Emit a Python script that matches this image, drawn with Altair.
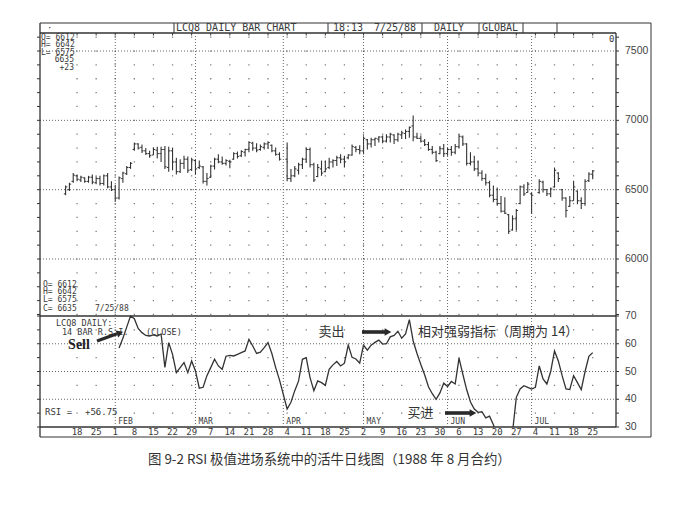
import altair as alt
import numpy as np
import pandas as pd

# ---------------- data ----------------
origin_day = "1988-01-04"          # trading-day index 0 (a Monday)
bar_first, bar_last = "1988-01-13", "1988-07-25"

highs = [6530, 6550, 6620,
         6610, 6600, 6590, 6600, 6610,
         6595, 6600, 6610, 6620, 6560,
         6535, 6595, 6630, 6670, 6700,
         6840, 6835, 6825, 6800, 6780,
         6805, 6810, 6810, 6815, 6810,
         6800, 6730, 6720, 6745, 6740,
         6730, 6720, 6710, 6670, 6620,
         6680, 6730, 6755, 6740, 6720,
         6715, 6770, 6775, 6785, 6795,
         6850, 6845, 6835, 6825, 6840,
         6850, 6825, 6805, 6770, None,
         6840, 6650, 6670, 6695, 6730,
         6805, 6805, 6695, 6685, 6710,
         6710, 6730, 6720, 6745, 6755,
         6745, 6755, 6825, 6815, 6820,
         6885, 6865, 6875, 6875, 6885,
         6890, 6900, 6910, 6900, 6910,
         6925, 6935, 6955, 7035, 6910,
         6890, 6865, 6845, 6815, 6780,
         6815, 6830, 6805, 6815, 6830,
         6900, 6890, 6835, 6770, 6745,
         6710, 6640, 6615, 6565, 6530,
         6515, 6455, 6445, 6325, 6315,
         6360, 6530, 6540, 6555, 6480,
         None, 6575, 6565, 6505, 6515,
         6660, 6625, 6505, 6445, 6455,
         6565, 6495, 6445, 6575, 6625,
         6642]
lows = [6460, 6490, 6550,
        6560, 6555, 6550, 6550, 6540,
        6540, 6530, 6530, 6510, 6490,
        6415, 6430, 6550, 6605, 6650,
        6780, 6790, 6765, 6750, 6730,
        6750, 6725, 6700, 6650, 6630,
        6640, 6610, 6620, 6650, 6620,
        6635, 6610, 6650, 6545, 6530,
        6585, 6645, 6690, 6680, 6675,
        6655, 6715, 6725, 6735, 6740,
        6770, 6780, 6770, 6780, 6790,
        6795, 6770, 6745, 6710, None,
        6560, 6555, 6590, 6610, 6650,
        6695, 6660, 6555, 6590, 6600,
        6625, 6650, 6660, 6670, 6690,
        6660, 6720, 6745, 6770, 6755,
        6755, 6790, 6805, 6815, 6840,
        6835, 6840, 6840, 6830, 6845,
        6865, 6865, 6875, 6850, 6865,
        6840, 6815, 6780, 6755, 6700,
        6755, 6735, 6745, 6745, 6755,
        6800, 6815, 6675, 6675, 6635,
        6600, 6565, 6530, 6445, 6410,
        6385, 6335, 6325, 6180, 6205,
        6205, 6395, 6455, 6480, 6325,
        None, 6470, 6480, 6455, 6445,
        6515, 6555, 6420, 6300, 6375,
        6420, 6395, 6360, 6385, 6555,
        6575]
opens = [6470, 6500, 6560,
         6600, 6570, 6585, 6560, 6590,
         6550, 6580, 6545, 6600, 6520,
         6500, 6440, 6580, 6615, 6660,
         6790, 6830, 6805, 6780, 6760,
         6750, 6785, 6760, 6790, 6660,
         6780, 6700, 6630, 6690, 6720,
         6645, 6710, 6660, 6665, 6560,
         6590, 6670, 6720, 6700, 6690,
         6705, 6720, 6760, 6745, 6770,
         6790, 6835, 6800, 6790, 6805,
         6830, 6820, 6780, 6755, None,
         6720, 6580, 6600, 6640, 6680,
         6720, 6790, 6680, 6595, 6650,
         6630, 6660, 6700, 6710, 6730,
         6720, 6730, 6750, 6805, 6790,
         6780, 6860, 6830, 6860, 6865,
         6880, 6850, 6880, 6895, 6860,
         6895, 6905, 6920, 6960, 6880,
         6870, 6850, 6825, 6790, 6770,
         6760, 6795, 6760, 6790, 6770,
         6810, 6880, 6830, 6690, 6700,
         6650, 6620, 6580, 6550, 6460,
         6430, 6400, 6345, 6320, 6210,
         6290, 6400, 6520, 6480, 6470,
         None, 6480, 6555, 6500, 6470,
         6520, 6620, 6500, 6440, 6380,
         6420, 6490, 6420, 6400, 6565,
         6612]
closes = [6520, 6540, 6605,
          6575, 6590, 6560, 6590, 6555,
          6580, 6545, 6600, 6520, 6500,
          6440, 6585, 6620, 6660, 6690,
          6830, 6800, 6780, 6760, 6745,
          6790, 6760, 6790, 6665, 6780,
          6700, 6630, 6690, 6720, 6640,
          6715, 6650, 6670, 6560, 6580,
          6670, 6720, 6700, 6690, 6710,
          6700, 6760, 6740, 6775, 6790,
          6840, 6800, 6785, 6810, 6830,
          6840, 6780, 6755, 6720, None,
          6580, 6600, 6650, 6680, 6720,
          6790, 6680, 6570, 6660, 6620,
          6650, 6700, 6710, 6730, 6720,
          6700, 6750, 6810, 6790, 6780,
          6870, 6830, 6860, 6870, 6880,
          6850, 6880, 6900, 6860, 6900,
          6910, 6920, 6950, 6880, 6870,
          6850, 6825, 6790, 6770, 6710,
          6795, 6760, 6790, 6770, 6810,
          6885, 6830, 6690, 6700, 6650,
          6620, 6580, 6550, 6460, 6430,
          6400, 6345, 6330, 6200, 6290,
          6350, 6520, 6470, 6540, 6460,
          None, 6560, 6500, 6470, 6505,
          6640, 6580, 6440, 6350, 6420,
          6520, 6420, 6400, 6560, 6612,
          6635]

rsi_first = "1988-02-02"
rsi_values = [58.5, 62, 66, 70,
              69, 65.5, 64, 63, 62.8,
              63.2, 62.8, 63.5, 51.5, 60.4,
              56.2, 49.6, 51.4, 53.2, 49.6,
              53.8, 50.2, 44, 44.3, 48.5,
              51.4, 54.4, 52, 50.8, 55.5,
              55.8, 55.6, 56.2, 56.8, 57.4,
              61.6, 59.2, 56.5, 57, 58.6,
              60.4, 56.5, 51.4, 47, None,
              36.5, 38.9, 43.1, 46.6, 54.4,
              55, 47.8, 43.1, 46.6, 46,
              45, 50.8, 52.4, 53.6, 52,
              53, 59.5, 55.1, 54.5, 53,
              59.5, 57.7, 59.5, 60.5, 61.3,
              59.9, 60, 62.5, 63, 64.5,
              62, 63.5, 68.7, 61, 56.5,
              52.5, 48.8, 44.5, 42, 40,
              42.3, 45.8, 44.6, 46.4, 45.5,
              54.8, 49, 43.5, 39, 36.5,
              35.3, 35.5, 33.3, 33.9, 30.8,
              27, 25, 23, 21, 28,
              40.7, 43.7, 44.9, 44.3, 43.7,
              44.3, 52, 47.3, 45.5, 50,
              57.4, 53.8, 48.5, 43.7, 43.5,
              48.5, 46, 43.5, 50, 55.5,
              56.8]

month_starts = ["1988-02-01", "1988-03-01", "1988-04-01",
                "1988-05-02", "1988-06-01", "1988-07-01"]
month_names = ["FEB", "MAR", "APR", "MAY", "JUN", "JUL"]
week_first, week_last = "1988-01-18", "1988-07-25"

price_labels = [6000, 6500, 7000, 7500]
price_ticks = list(range(5600, 7700, 100))
rsi_labels = [30, 40, 50, 60, 70]
rsi_ticks = list(range(30, 75, 5))
rsi_lines = [40, 50, 60]
rsi_dot_levels = [35, 45, 55, 65]

caption = "图 9-2  RSI 极值进场系统中的活牛日线图（1988 年 8 月合约）"

# ---------------- tables ----------------
def tindex(days):
    return np.busday_count(origin_day, np.array(days, dtype="datetime64[D]"))

bar_days = pd.bdate_range(bar_first, bar_last)
bars = pd.DataFrame({"i": tindex(bar_days.strftime("%Y-%m-%d")),
                     "high": highs, "low": lows, "open": opens, "close": closes}).dropna()

rsi_days = pd.bdate_range(rsi_first, bar_last)
rsi = pd.DataFrame({"i": tindex(rsi_days.strftime("%Y-%m-%d")), "rsi": rsi_values}).dropna()

mondays = pd.date_range(week_first, week_last, freq="W-MON")
weeks = pd.DataFrame({"i": tindex(mondays.strftime("%Y-%m-%d")),
                      "label": [str(d.day) for d in mondays]})
months = pd.DataFrame({"i": tindex(month_starts), "name": month_names})

price_dots = pd.DataFrame([(w, p) for w in weeks["i"] for p in price_ticks], columns=["i", "p"])
rsi_dots = pd.DataFrame([(w, r) for w in weeks["i"] for r in rsi_dot_levels], columns=["i", "r"])

# ---------------- scales / style ----------------
W, H = 576, 394
MAIN_H = 283
INK = "#333333"
TXT = "#3a3a3a"
MONO = "DejaVu Sans Mono"

xs = alt.Scale(domain=[0.3, 151.1], zero=False, nice=False)
ps = alt.Scale(domain=[5589, 7630], range=[MAIN_H, 0], zero=False, nice=False)
rs = alt.Scale(domain=[30, 70], range=[H, MAIN_H], zero=False, nice=False)

X = alt.X("i:Q", scale=xs, axis=None)
P = lambda f: alt.Y(f, scale=ps, axis=None)
R = lambda f: alt.Y(f, scale=rs, axis=None)

# ---------------- price panel ----------------
hl = alt.Chart(bars).mark_rule(color=INK, strokeWidth=1.1).encode(x=X, y=P("low:Q"), y2="high:Q")
op = alt.Chart(bars).transform_calculate(i0="datum.i - 0.45").mark_rule(
    color=INK, strokeWidth=1).encode(x=alt.X("i0:Q", scale=xs, axis=None), x2="i:Q", y=P("open:Q"))
cl = alt.Chart(bars).transform_calculate(i1="datum.i + 0.45").mark_rule(
    color=INK, strokeWidth=1).encode(x=X, x2="i1:Q", y=P("close:Q"))
pdots = alt.Chart(price_dots).mark_square(size=1.6, color="#6a6a6a", opacity=0.9).encode(x=X, y=P("p:Q"))
plines = alt.Chart(pd.DataFrame({"p": price_labels})).mark_rule(
    color="#555", strokeWidth=0.9, strokeDash=[1, 2]).encode(y=P("p:Q"), x=alt.value(0), x2=alt.value(W))
ptick_l = alt.Chart(pd.DataFrame({"p": price_ticks})).mark_rule(color=INK, strokeWidth=1).encode(
    y=P("p:Q"), x=alt.value(-3), x2=alt.value(0))
ptick_r = alt.Chart(pd.DataFrame({"p": price_ticks})).mark_rule(color=INK, strokeWidth=1).encode(
    y=P("p:Q"), x=alt.value(W), x2=alt.value(W + 3))
plabels = alt.Chart(pd.DataFrame({"p": price_labels})).mark_text(
    align="left", baseline="middle", font="Liberation Sans", fontSize=10.5, color="#444").encode(
    y=P("p:Q"), x=alt.value(585), text="p:Q")
price_layer = alt.layer(plines, pdots, ptick_l, ptick_r, hl, op, cl, plabels)

# ---------------- RSI panel ----------------
rline = alt.Chart(rsi).mark_line(color=INK, strokeWidth=1.3, clip=True).encode(x=X, y=R("rsi:Q"))
rdots = alt.Chart(rsi_dots).mark_square(size=1.6, color="#6a6a6a", opacity=0.9).encode(x=X, y=R("r:Q"))
rgrid = alt.Chart(pd.DataFrame({"r": rsi_lines})).mark_rule(
    color="#555", strokeWidth=0.9, strokeDash=[1, 2]).encode(y=R("r:Q"), x=alt.value(0), x2=alt.value(W))
rtick_l = alt.Chart(pd.DataFrame({"r": rsi_ticks})).mark_rule(color=INK, strokeWidth=1).encode(
    y=R("r:Q"), x=alt.value(-3), x2=alt.value(0))
rtick_r = alt.Chart(pd.DataFrame({"r": rsi_ticks})).mark_rule(color=INK, strokeWidth=1).encode(
    y=R("r:Q"), x=alt.value(W), x2=alt.value(W + 3))
rlabels = alt.Chart(pd.DataFrame({"r": rsi_labels})).mark_text(
    align="left", baseline="middle", font="Liberation Sans", fontSize=10.5, color="#444").encode(
    y=R("r:Q"), x=alt.value(585), text="r:Q")
rsi_layer = alt.layer(rgrid, rdots, rtick_l, rtick_r, rline, rlabels)

# ---------------- decoration (frame, header, texts) ----------------
deco = []
anchor = alt.Chart(pd.DataFrame({"k": [0]}))

def seg(x1, y1, x2, y2, w=1.0, color=INK):
    deco.append(anchor.mark_rule(color=color, strokeWidth=w).encode(
        x=alt.value(x1), y=alt.value(y1), x2=alt.value(x2), y2=alt.value(y2)))

def txt(s, x, y, size=9, font=MONO, align="left", color=TXT, weight="normal"):
    deco.append(anchor.mark_text(text=s, align=align, baseline="middle", fontSize=size,
                                 font=font, color=color, fontWeight=weight).encode(
        x=alt.value(x), y=alt.value(y)))

# outer frame & header
seg(0, -10, 611, -10)
seg(0, 404, 611, 404)
seg(0, -10, 0, 404, 1.3)
seg(611, -10, 611, 404)
seg(0, 0, W, 0, 1.6)
seg(W, 0, W, H, 1.3)
seg(0, MAIN_H, W, MAIN_H, 1.3)
seg(0, H, W, H, 1.3)
for xd in [134, 288, 382, 439, 483, 517]:
    seg(xd, -10, xd, 0)
txt("·", 7, -5, 9)
txt("LCQ8 DAILY BAR CHART", 136, -5, 10)
txt("18:13", 293, -5, 10)
txt("7/25/88", 334, -5, 10)
txt("DAILY", 394, -5, 10)
txt("GLOBAL", 442, -5, 10)
txt("0", 569, 6, 9)

# month dotted verticals, month names, week labels, top ticks
deco.append(alt.Chart(months).mark_rule(color="#555", strokeWidth=0.9, strokeDash=[1, 2]).encode(
    x=X, y=alt.value(0), y2=alt.value(H)))
deco.append(alt.Chart(months).mark_text(align="left", baseline="middle", dx=3, fontSize=8,
                                        font=MONO, color=TXT).encode(
    x=X, y=alt.value(389), text="name:N"))
deco.append(alt.Chart(weeks).mark_text(align="center", baseline="middle", fontSize=9,
                                       font=MONO, color=TXT).encode(
    x=X, y=alt.value(399), text="label:N"))
deco.append(alt.Chart(weeks).mark_rule(color=INK, strokeWidth=1).encode(
    x=X, y=alt.value(0), y2=alt.value(2.5)))

# quote blocks
txt("O= 6612", 1, 4.5, 8)
txt("H= 6642", 1, 12, 8)
txt("L= 6575", 1, 19.5, 8)
txt("6635", 34, 27, 8, align="right")
txt("+23", 34, 34.5, 8, align="right")
txt("O= 6612", 3, 251.5, 8)
txt("H= 6642", 3, 259, 8)
txt("L= 6575", 3, 266.5, 8)
txt("C= 6635", 3, 275.5, 8)
txt("7/25/88", 55, 275.5, 8)
txt("LCQ8 DAILY:", 16, 289.5, 8.5)
txt("14 BAR R.S.I.", 22, 298.5, 8.5)
txt("(CLOSE)", 106, 298.5, 8.5)
txt("RSI =", 5, 379, 9)
txt("+56.75", 45, 379, 9)

# book annotations
txt("Sell", 39, 312, 14, font="Liberation Serif", align="center", color="#222", weight="bold")
seg(57, 308, 77, 300.8, 3.2, "#2a2a2a")
deco.append(anchor.mark_point(shape="triangle-right", filled=True, size=55, angle=340,
                              color="#2a2a2a", opacity=1).encode(x=alt.value(80), y=alt.value(299.8)))
txt("卖出", 291.5, 299, 13, font="Noto Sans CJK SC", align="center", color="#333")
seg(322, 299, 345, 299, 3.6, "#2a2a2a")
deco.append(anchor.mark_point(shape="triangle-right", filled=True, size=60,
                              color="#2a2a2a", opacity=1).encode(x=alt.value(348), y=alt.value(299)))
txt("相对强弱指标（周期为 14）", 378, 299, 13, font="Noto Sans CJK SC", color="#333")
txt("买进", 380.5, 379.5, 13, font="Noto Sans CJK SC", align="center", color="#333")
seg(405, 380, 430, 380, 3.6, "#2a2a2a")
deco.append(anchor.mark_point(shape="triangle-right", filled=True, size=60,
                              color="#2a2a2a", opacity=1).encode(x=alt.value(433), y=alt.value(380)))

# caption
txt(caption, 108, 427, 13.4, font="Noto Sans CJK SC", color="#333")

deco_layer = alt.layer(*deco)

chart = alt.layer(price_layer, rsi_layer, deco_layer).resolve_scale(y="independent").properties(
    width=W, height=H, autosize="none",
    padding={"left": 32, "top": 25, "right": 61, "bottom": 82},
    background="white",
).configure_view(strokeWidth=0)

chart.save("out.html", embed_options={"renderer": "svg", "actions": False})
